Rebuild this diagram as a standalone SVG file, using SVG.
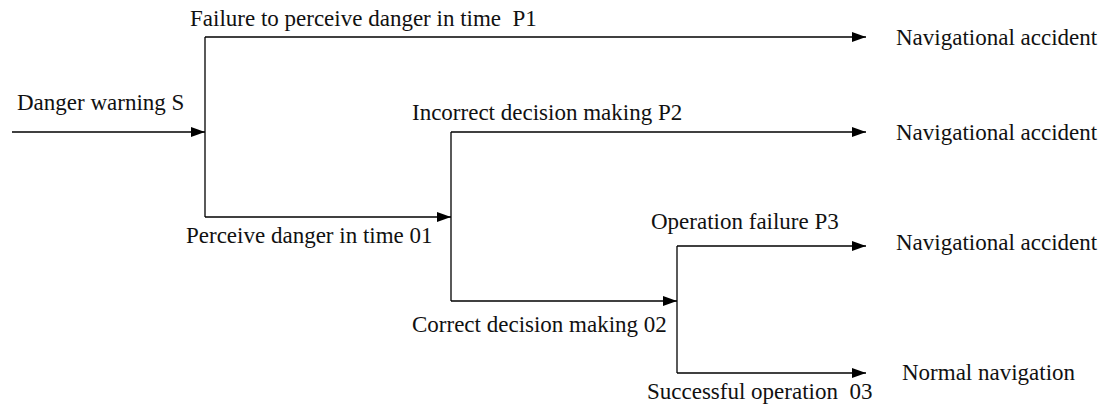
<svg xmlns="http://www.w3.org/2000/svg" width="1105" height="410" viewBox="0 0 1105 410">
<style>
.t{font-family:'Liberation Serif','Times New Roman',Tinos,'Noto Serif','DejaVu Serif',FreeSerif,serif;font-size:23px;fill:#111}
.c{fill:none;stroke:#000;stroke-width:1.3}
</style>
<defs>
<marker id="ah" markerUnits="userSpaceOnUse" markerWidth="16" markerHeight="12" viewBox="0 0 16 12" refX="15" refY="6" orient="auto">
<path d="M1,1 L15,6 L1,11 Z" fill="#000"/>
</marker>
</defs>
<rect width="1105" height="410" fill="#fff"/>
<g id="connectors">
<path class="c" d="M12,132 H205" marker-end="url(#ah)"/>
<path class="c" d="M205,132 V37"/>
<path class="c" d="M205,132 V217"/>
<path class="c" d="M205,37 H866" marker-end="url(#ah)"/>
<path class="c" d="M205,217 H451" marker-end="url(#ah)"/>
<path class="c" d="M451,132 V301"/>
<path class="c" d="M451,132 H866" marker-end="url(#ah)"/>
<path class="c" d="M451,301 H677" marker-end="url(#ah)"/>
<path class="c" d="M677,246 V373"/>
<path class="c" d="M677,246 H866" marker-end="url(#ah)"/>
<path class="c" d="M677,373 H866" marker-end="url(#ah)"/>
</g>
<g id="start"><text class="t" x="17" y="110">Danger warning S</text></g>
<g id="p1"><text class="t" x="190" y="26" xml:space="preserve">Failure to perceive danger in time  P1</text></g>
<g id="o1"><text class="t" x="186" y="243">Perceive danger in time 01</text></g>
<g id="p2"><text class="t" x="412" y="120">Incorrect decision making P2</text></g>
<g id="o2"><text class="t" x="412" y="332">Correct decision making 02</text></g>
<g id="p3"><text class="t" x="651" y="229">Operation failure P3</text></g>
<g id="o3"><text class="t" x="647" y="399" xml:space="preserve">Successful operation  03</text></g>
<g id="end1"><text class="t" x="896" y="45">Navigational accident</text></g>
<g id="end2"><text class="t" x="896" y="140">Navigational accident</text></g>
<g id="end3"><text class="t" x="896" y="250">Navigational accident</text></g>
<g id="end4"><text class="t" x="902" y="380">Normal navigation</text></g>
</svg>
